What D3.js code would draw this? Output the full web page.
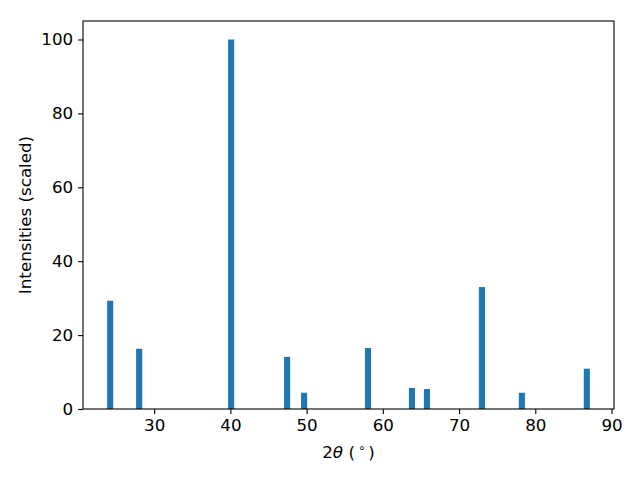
<!DOCTYPE html>
<html><head><meta charset="utf-8">
<script src="https://cdn.jsdelivr.net/npm/d3@7"></script>
<style>body{margin:0;background:#fff}svg{display:block}</style>
</head><body>
<script>
const positions = [24.23, 28.03, 40.1, 47.44, 49.67, 58.05, 63.82, 65.79, 73.0, 78.24, 86.76];
const intensities = [29.3, 16.3, 100, 14.1, 4.4, 16.5, 5.7, 5.4, 33.0, 4.4, 10.9];
const xTicks = [30, 40, 50, 60, 70, 80, 90];
const yTicks = [0, 20, 40, 60, 80, 100];
const barWidth = 0.8;

const W = 640, H = 480;
const m = {left: 83, right: 26, top: 21, bottom: 71};
const svg = d3.select("body").append("svg").attr("width", W).attr("height", H);
const pw = W - m.left - m.right, ph = H - m.top - m.bottom;
const xmin = d3.min(positions) - barWidth/2, xmax = d3.max(positions) + barWidth/2;
const pad = (xmax - xmin) * 0.05;
const x = d3.scaleLinear().domain([xmin - pad, xmax + pad]).range([m.left, m.left + pw]);
const y = d3.scaleLinear().domain([0, 105]).range([m.top + ph, m.top]);

svg.append("g").selectAll("rect").data(positions).join("rect")
  .attr("x", d => x(d - barWidth/2))
  .attr("width", d => x(d + barWidth/2) - x(d - barWidth/2))
  .attr("y", (d, i) => y(intensities[i]))
  .attr("height", (d, i) => y(0) - y(intensities[i]))
  .attr("fill", "#1f77b4");

const font = "DejaVu Sans, sans-serif";
const fs = 16.7;
const xa = svg.append("g").attr("transform", `translate(0,${m.top + ph})`)
  .call(d3.axisBottom(x).tickValues(xTicks).tickSize(4.9).tickPadding(4.9).tickFormat(d3.format("d")));
const ya = svg.append("g").attr("transform", `translate(${m.left},0)`)
  .call(d3.axisLeft(y).tickValues(yTicks).tickSize(4.9).tickPadding(4.9).tickFormat(d3.format("d")));
[xa, ya].forEach(a => {
  a.select(".domain").remove();
  a.selectAll("text").attr("font-family", font).attr("font-size", fs).attr("fill", "#000");
  a.selectAll("line").attr("stroke", "#000").attr("stroke-width", 1.1);
});

svg.append("rect").attr("x", m.left).attr("y", m.top).attr("width", pw).attr("height", ph)
  .attr("fill", "none").attr("stroke", "#000").attr("stroke-width", 1.1);

const xl = svg.append("text").attr("x", m.left + pw/2).attr("y", 458)
  .attr("text-anchor", "middle").attr("font-family", font).attr("font-size", fs).attr("fill", "#000");
xl.append("tspan").text("2");
xl.append("tspan").attr("font-style", "italic").text("θ");
xl.append("tspan").text(" (");
xl.append("tspan").attr("font-size", 11.7).attr("dy", -6).attr("dx", 3).text("∘");
xl.append("tspan").attr("dy", 6).attr("dx", 3).text(")");

svg.append("text").attr("transform", `translate(31,${m.top + ph/2}) rotate(-90)`)
  .attr("text-anchor", "middle").attr("font-family", font).attr("font-size", fs).attr("fill", "#000")
  .text("Intensities (scaled)");
</script>
</body></html>
